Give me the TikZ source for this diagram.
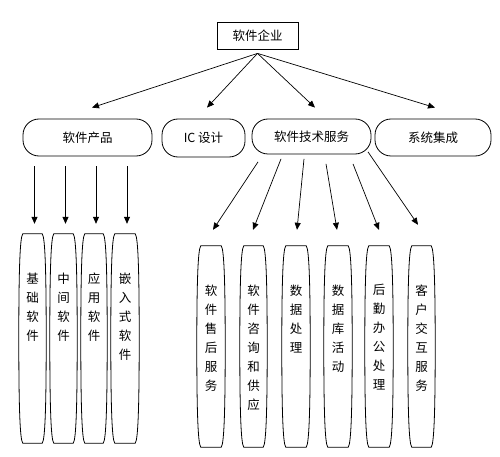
\documentclass[tikz,border=0pt]{standalone}
\usepackage{fontspec}
\setmainfont{Noto Sans CJK SC}
\usetikzlibrary{arrows.meta,positioning,calc}
\tikzset{
  box/.style={draw,line width=0.8pt,minimum width=81pt,minimum height=27pt,inner sep=0pt},
  pill/.style={draw,line width=0.8pt,rounded corners=16pt,minimum height=#1,inner sep=0pt},
  pill/.default=37pt,
  barrel/.style={minimum width=28pt,minimum height=#1,inner sep=0pt},
  barrel/.default=201pt,
  vtext/.style={align=center,inner sep=0pt,font=\fontsize{12.5}{19}\selectfont},
  vlab/.style={label={[vtext,anchor=north,yshift=-38.5pt]north:{#1}}},
  arr/.style={-{Triangle[length=7pt,width=6pt]},line width=0.7pt},
}
% outline of the tall boxes
\newcommand\barrelpath[1]{%
  \draw[line width=0.8pt] ([xshift=4pt]#1.north west) -- ([xshift=-4pt]#1.north east)
    .. controls ([xshift=-1pt,yshift=-3pt]#1.north east) and ([yshift=-40pt]#1.north east) .. (#1.east)
    .. controls ([yshift=40pt]#1.south east) and ([xshift=-1pt,yshift=3pt]#1.south east) .. ([xshift=-4pt]#1.south east)
    -- ([xshift=4pt]#1.south west)
    .. controls ([xshift=1pt,yshift=3pt]#1.south west) and ([yshift=40pt]#1.south west) .. (#1.west)
    .. controls ([yshift=-40pt]#1.north west) and ([xshift=1pt,yshift=-3pt]#1.north west) .. cycle;}

\begin{document}
\begin{tikzpicture}[x=1pt,y=-1pt,font=\fontsize{12.5}{15}\selectfont]
  \useasboundingbox (0,0) rectangle (500,457);
  % top
  \node[box] (qy) at (257.5,35.5) {软件企业};
  % second level
  \node[pill,minimum width=129pt] (cp) at (87.5,137.5) {软件产品};
  \node[pill=38pt,minimum width=83pt] (ic) at (203.5,138) {IC 设计};
  \node[pill=35pt,minimum width=119pt] (fw) at (311.5,136.5) {软件技术服务};
  \node[pill,minimum width=116pt] (xtjc) at (433,137.5) {系统集成};
  % products
  \node[barrel=209pt,minimum width=27pt,vlab={基\\础\\软\\件}] (jcrj) at (32.5,338.5) {};
  \node[barrel=209pt,minimum width=27pt,vlab={中\\间\\软\\件}] (zjrj) at (63.5,338.5) {};
  \node[barrel=209pt,minimum width=26pt,vlab={应\\用\\软\\件}] (yyrj) at (94,338.5) {};
  \node[barrel=209pt,vlab={嵌\\入\\式\\软\\件}] (qrrj) at (125,338.5) {};
  % services
  \node[barrel,vlab={软\\件\\售\\后\\服\\务}] (shfw) at (211,346.5) {};
  \node[barrel,minimum width=27pt,vlab={软\\件\\咨\\询\\和\\供\\应}] (zxgy) at (253.5,346.5) {};
  \node[barrel,vlab={数\\据\\处\\理}] (sjcl) at (296,346.5) {};
  \node[barrel,vlab={数\\据\\库\\活\\动}] (sjk) at (338,346.5) {};
  \node[barrel,vlab={后\\勤\\办\\公\\处\\理}] (hqbg) at (379,346.5) {};
  \node[barrel,minimum width=27pt,vlab={客\\户\\交\\互\\服\\务}] (khfw) at (421.5,346.5) {};
  \foreach \n in {jcrj,zjrj,yyrj,qrrj,shfw,zxgy,sjcl,sjk,hqbg,khfw}
    \barrelpath{\n};
  % connectors
  \coordinate (fork) at ([yshift=-4pt]qy.south);
  \foreach \t/\dx in {cp/4.5,ic/3.5,fw/3.5,xtjc/2}
    \draw[arr] (fork) -- ($(\t.north)+(\dx,-11)$);
  \foreach \t in {jcrj,zjrj,yyrj,qrrj}
    \draw[arr] ($(\t.north |- cp.south)+(2,10)$) -- ($(\t.north)+(2,-10)$);
  \foreach \t/\sx/\sy/\ex/\ey in {shfw/-53.5/7.5/2/-16,zxgy/-30.5/4.5/-0.5/-16,
      sjcl/-7.5/4.5/1/-16,sjk/14.5/9.5/-1/-16,hqbg/41.5/9.5/0/-16,khfw/56.5/-2.5/-3.5/-21}
    \draw[arr] ($(fw.south)+(\sx,\sy)$) -- ($(\t.north)+(\ex,\ey)$);
\end{tikzpicture}
\end{document}
